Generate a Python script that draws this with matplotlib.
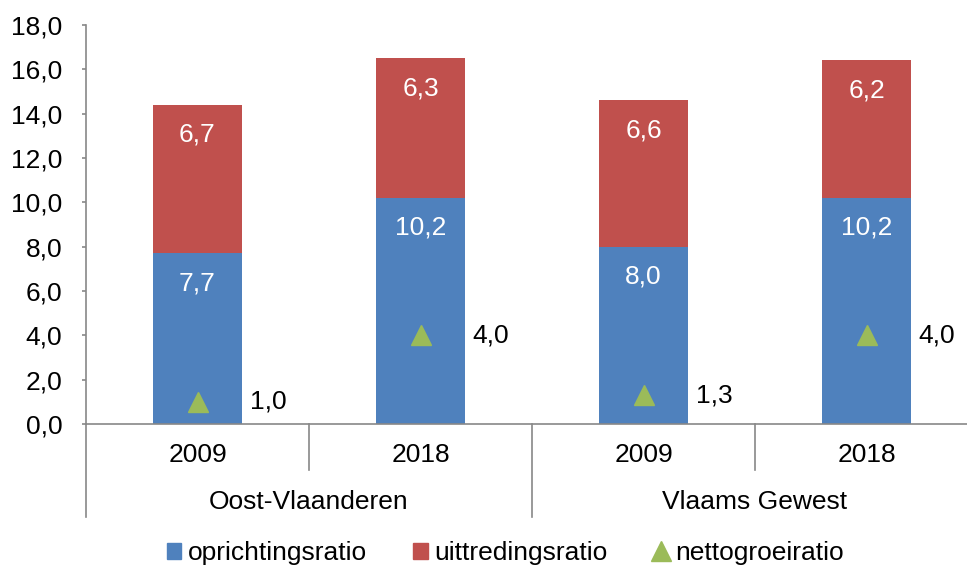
import matplotlib.pyplot as plt
from matplotlib.lines import Line2D
from matplotlib.patches import Patch

plt.rcParams['font.family'] = ['Liberation Sans', 'DejaVu Sans']

years = ['2009', '2018', '2009', '2018']
groups = ['Oost-Vlaanderen', 'Vlaams Gewest']
oprichting = [7.7, 10.2, 8.0, 10.2]
uittreding = [6.7, 6.3, 6.6, 6.2]
nettogroei = [1.0, 4.0, 1.3, 4.0]

BLUE, RED, GREEN = '#4F81BD', '#C0504D', '#9BBB59'
AXC = '#888888'
FS = 19

W, H = 967, 567
fig = plt.figure(figsize=(W / 100, H / 100), dpi=100)
ax = fig.add_axes([86 / W, (H - 424) / H, (978 - 86) / W, (424 - 25) / H])

x = list(range(len(years)))
ax.bar(x, oprichting, width=0.4, color=BLUE, edgecolor='none')
ax.bar(x, uittreding, width=0.4, bottom=oprichting, color=RED, edgecolor='none')
ax.plot(x, nettogroei, linestyle='none', marker='^', markersize=14, color=GREEN)

def fmt(v):
    return f'{v:.1f}'.replace('.', ',')

for xi, b, r, n in zip(x, oprichting, uittreding, nettogroei):
    ax.annotate(fmt(b), (xi, b), xytext=(0, -30), textcoords='offset pixels',
                ha='center', va='center', color='white', fontsize=FS)
    ax.annotate(fmt(r), (xi, b + r), xytext=(0, -30), textcoords='offset pixels',
                ha='center', va='center', color='white', fontsize=FS)
    ax.annotate(fmt(n), (xi, n), xytext=(52, 0), textcoords='offset pixels',
                ha='left', va='center', color='black', fontsize=FS)

ax.set_xlim(-0.5, 3.5)
ax.set_ylim(0, 18)
ax.set_yticks(range(0, 19, 2))
ax.set_yticklabels([fmt(v) for v in range(0, 19, 2)], fontsize=FS)
ax.tick_params(axis='y', length=3, color=AXC, width=1.2, pad=14)
ax.set_xticks([])
for s in ['top', 'right']:
    ax.spines[s].set_visible(False)
for s in ['left', 'bottom']:
    ax.spines[s].set_color(AXC)
    ax.spines[s].set_linewidth(1.2)

# two-level category axis below the baseline
unit = 399 / 18  # pixels per data unit
def ypix(p):
    return -p / unit

for xi, yr in zip(x, years):
    ax.text(xi, ypix(31), yr, ha='center', va='center', fontsize=FS)
for gi, g in enumerate(groups):
    ax.text(gi * 2 + 0.5, ypix(78), g, ha='center', va='center', fontsize=FS)

for xs, depth in [(-0.5, 93), (0.5, 46), (1.5, 93), (2.5, 46)]:
    ax.add_line(Line2D([xs, xs], [0, ypix(depth)], color=AXC, lw=1.2, clip_on=False))

handles = [Patch(color=BLUE, label='oprichtingsratio'),
           Patch(color=RED, label='uittredingsratio'),
           Line2D([], [], linestyle='none', marker='^', markersize=14, color=GREEN,
                  label='nettogroeiratio')]
fig.legend(handles=handles, loc='center', bbox_to_anchor=(505 / W, 1 - 553 / H),
           ncol=3, frameon=False, fontsize=FS, handlelength=0.55, handleheight=0.55,
           handletextpad=0.25, columnspacing=1.75)

fig.savefig('out.png', dpi=100)
